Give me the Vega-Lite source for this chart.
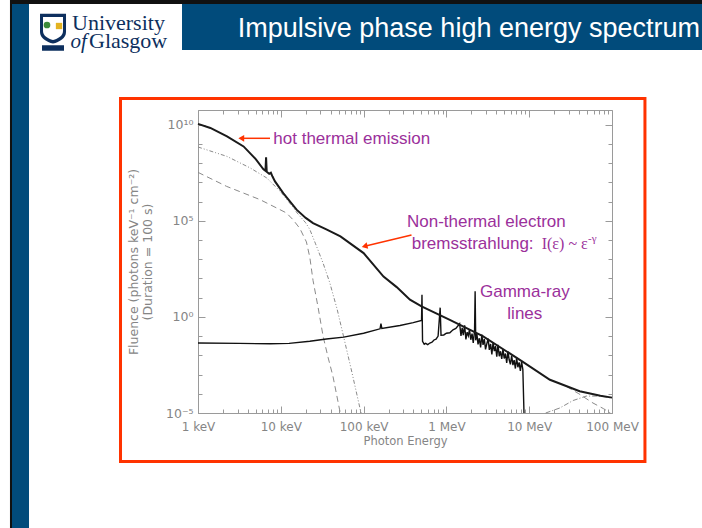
{
  "$schema": "https://vega.github.io/schema/vega-lite/v6.json",
  "width": 414,
  "height": 303,
  "autosize": {"type": "none"},
  "padding": {"left": 198, "top": 110, "right": 90, "bottom": 115},
  "background": "white",
  "config": {"view": {"stroke": "#9a9a9a", "strokeWidth": 1}},
  "datasets": {
    "chrome": [
      {"part": "top rule", "energy": 0.00536, "energy2": 1300000, "fluence": 1.905e16, "fluence2": 5e16},
      {"part": "header", "energy": 0.641, "energy2": 1300000, "fluence": 7.71e13, "fluence2": 1.905e16},
      {"part": "left rule", "energy": 0.00536, "energy2": 0.00567, "fluence": 1e-12, "fluence2": 1.905e16},
      {"part": "left bar", "energy": 0.00567, "energy2": 0.0091, "fluence": 1e-12, "fluence2": 1.905e16}
    ],
    "frame": [
      {"part": "figure box", "energy": 0.1159, "energy2": 250000, "fluence": 3.0e-8, "fluence2": 2.31e11}
    ],
    "emblem": [
      {"part": "shield", "energy": 0.01774, "fluence": 1.075e15},
      {"part": "inner", "energy": 0.01774, "fluence": 1.075e15},
      {"part": "tree", "energy": 0.0150, "fluence": 1.54e15},
      {"part": "bell", "energy": 0.02096, "fluence": 1.366e15},
      {"part": "scroll", "energy": 0.01774, "fluence": 9.79e13}
    ],
    "components": [
      {"series": "Hot thermal", "energy": 1, "fluence": 6.92e8},
      {"series": "Hot thermal", "energy": 2.24, "fluence": 2.24e8},
      {"series": "Hot thermal", "energy": 4.27, "fluence": 5.62e7},
      {"series": "Hot thermal", "energy": 6.76, "fluence": 1.70e7},
      {"series": "Hot thermal", "energy": 10, "fluence": 3.16e6},
      {"series": "Hot thermal", "energy": 14.1, "fluence": 5.01e5},
      {"series": "Hot thermal", "energy": 15.8, "fluence": 2.51e5},
      {"series": "Hot thermal", "energy": 19.95, "fluence": 7.94e4},
      {"series": "Hot thermal", "energy": 22.4, "fluence": 3.55e4},
      {"series": "Hot thermal", "energy": 26.3, "fluence": 6310},
      {"series": "Hot thermal", "energy": 32.4, "fluence": 631},
      {"series": "Hot thermal", "energy": 38.9, "fluence": 63.1},
      {"series": "Hot thermal", "energy": 47.9, "fluence": 2.51},
      {"series": "Hot thermal", "energy": 57.5, "fluence": 0.0891},
      {"series": "Hot thermal", "energy": 72.4, "fluence": 0.00126},
      {"series": "Hot thermal", "energy": 91.2, "fluence": 0.0000148},
      {"series": "Hot thermal", "energy": 93.3, "fluence": 0.00001},
      {"series": "Cool thermal", "energy": 1, "fluence": 3.31e7},
      {"series": "Cool thermal", "energy": 2.22, "fluence": 6.17e6},
      {"series": "Cool thermal", "energy": 5.62, "fluence": 1.26e6},
      {"series": "Cool thermal", "energy": 11.7, "fluence": 2.57e5},
      {"series": "Cool thermal", "energy": 14.1, "fluence": 1.12e5},
      {"series": "Cool thermal", "energy": 17.0, "fluence": 3.98e4},
      {"series": "Cool thermal", "energy": 20.4, "fluence": 7940},
      {"series": "Cool thermal", "energy": 22.4, "fluence": 1260},
      {"series": "Cool thermal", "energy": 24.5, "fluence": 79.4},
      {"series": "Cool thermal", "energy": 28.2, "fluence": 3.16},
      {"series": "Cool thermal", "energy": 32.4, "fluence": 0.1},
      {"series": "Cool thermal", "energy": 37.2, "fluence": 0.00794},
      {"series": "Cool thermal", "energy": 42.7, "fluence": 0.000794},
      {"series": "Cool thermal", "energy": 51.3, "fluence": 0.0000148},
      {"series": "Cool thermal", "energy": 52.5, "fluence": 0.00001},
      {"series": "Pion decay", "energy": 15800, "fluence": 0.00001},
      {"series": "Pion decay", "energy": 23400, "fluence": 0.0000182},
      {"series": "Pion decay", "energy": 33900, "fluence": 0.0000447},
      {"series": "Pion decay", "energy": 49000, "fluence": 0.0000759},
      {"series": "Pion decay", "energy": 72400, "fluence": 0.0000759},
      {"series": "Pion decay", "energy": 100000, "fluence": 0.0000603},
      {"series": "Electron bremsstrahlung", "energy": 28200, "fluence": 0.00024},
      {"series": "Electron bremsstrahlung", "energy": 39800, "fluence": 0.0001},
      {"series": "Electron bremsstrahlung", "energy": 58900, "fluence": 0.0000331},
      {"series": "Electron bremsstrahlung", "energy": 79400, "fluence": 0.0000166},
      {"series": "Electron bremsstrahlung", "energy": 95500, "fluence": 0.00001}
    ],
    "gamma": [
      {"energy": 1, "fluence": 0.0437},
      {"energy": 3.16, "fluence": 0.0417},
      {"energy": 7.41, "fluence": 0.0398},
      {"energy": 12.6, "fluence": 0.0417},
      {"energy": 22.4, "fluence": 0.0537},
      {"energy": 35.5, "fluence": 0.0708},
      {"energy": 57.5, "fluence": 0.0891},
      {"energy": 100, "fluence": 0.141},
      {"energy": 158, "fluence": 0.24},
      {"energy": 162, "fluence": 0.447},
      {"energy": 166, "fluence": 0.251},
      {"energy": 275, "fluence": 0.355},
      {"energy": 398, "fluence": 0.501},
      {"energy": 501, "fluence": 0.661},
      {"energy": 507, "fluence": 14.1},
      {"energy": 515, "fluence": 0.0537},
      {"energy": 540, "fluence": 0.038},
      {"energy": 562, "fluence": 0.0417},
      {"energy": 595, "fluence": 0.036},
      {"energy": 631, "fluence": 0.0437},
      {"energy": 670, "fluence": 0.048},
      {"energy": 708, "fluence": 0.0631},
      {"energy": 750, "fluence": 0.07},
      {"energy": 794, "fluence": 0.1},
      {"energy": 841, "fluence": 3.02},
      {"energy": 861, "fluence": 0.112},
      {"energy": 930, "fluence": 0.115},
      {"energy": 1000, "fluence": 0.141},
      {"energy": 1100, "fluence": 0.15},
      {"energy": 1202, "fluence": 0.214},
      {"energy": 1300, "fluence": 0.25},
      {"energy": 1445, "fluence": 0.442},
      {"energy": 1500, "fluence": 0.1026},
      {"energy": 1550, "fluence": 0.270},
      {"energy": 1600, "fluence": 0.1125},
      {"energy": 1660, "fluence": 0.369},
      {"energy": 1720, "fluence": 0.0682},
      {"energy": 1780, "fluence": 0.160},
      {"energy": 1840, "fluence": 0.1052},
      {"energy": 1900, "fluence": 0.220},
      {"energy": 1970, "fluence": 0.0646},
      {"energy": 2040, "fluence": 0.1337},
      {"energy": 2110, "fluence": 0.0443},
      {"energy": 2188, "fluence": 0.183},
      {"energy": 2223, "fluence": 21.4},
      {"energy": 2260, "fluence": 0.0607},
      {"energy": 2330, "fluence": 0.143},
      {"energy": 2410, "fluence": 0.0374},
      {"energy": 2500, "fluence": 0.0774},
      {"energy": 2590, "fluence": 0.0255},
      {"energy": 2680, "fluence": 0.119},
      {"energy": 2770, "fluence": 0.0350},
      {"energy": 2870, "fluence": 0.0708},
      {"energy": 2970, "fluence": 0.0204},
      {"energy": 3080, "fluence": 0.0411},
      {"energy": 3190, "fluence": 0.0746},
      {"energy": 3300, "fluence": 0.0191},
      {"energy": 3420, "fluence": 0.0389},
      {"energy": 3540, "fluence": 0.01117},
      {"energy": 3660, "fluence": 0.0456},
      {"energy": 3790, "fluence": 0.0164},
      {"energy": 3920, "fluence": 0.0300},
      {"energy": 4060, "fluence": 0.00857},
      {"energy": 4200, "fluence": 0.0350},
      {"energy": 4350, "fluence": 0.00895},
      {"energy": 4500, "fluence": 0.01626},
      {"energy": 4660, "fluence": 0.00659},
      {"energy": 4820, "fluence": 0.0213},
      {"energy": 4990, "fluence": 0.00686},
      {"energy": 5170, "fluence": 0.01245},
      {"energy": 5350, "fluence": 0.00401},
      {"energy": 5540, "fluence": 0.01618},
      {"energy": 5730, "fluence": 0.00589},
      {"energy": 5930, "fluence": 0.00338},
      {"energy": 6140, "fluence": 0.00970},
      {"energy": 6360, "fluence": 0.00313},
      {"energy": 6580, "fluence": 0.00568},
      {"energy": 6810, "fluence": 0.00206},
      {"energy": 7050, "fluence": 0.00743},
      {"energy": 7300, "fluence": 0.00240},
      {"energy": 7560, "fluence": 0.00433},
      {"energy": 7820, "fluence": 0.00157},
      {"energy": 8100, "fluence": 0.00453},
      {"energy": 8380, "fluence": 0.00184},
      {"energy": 8650, "fluence": 0.00001}
    ],
    "total": [
      {"energy": 1, "fluence": 1.1e10},
      {"energy": 1.41, "fluence": 6.76e9},
      {"energy": 2.24, "fluence": 2.45e9},
      {"energy": 3.55, "fluence": 7.41e8},
      {"energy": 5.01, "fluence": 1.58e8},
      {"energy": 6.17, "fluence": 4.79e7},
      {"energy": 6.53, "fluence": 3.98e7},
      {"energy": 6.64, "fluence": 2.0e8},
      {"energy": 6.76, "fluence": 3.55e7},
      {"energy": 7.24, "fluence": 2.82e7},
      {"energy": 7.59, "fluence": 3.16e7},
      {"energy": 7.94, "fluence": 2.0e7},
      {"energy": 8.51, "fluence": 1.12e7},
      {"energy": 10.7, "fluence": 2.75e6},
      {"energy": 15.5, "fluence": 3.8e5},
      {"energy": 20, "fluence": 1.41e5},
      {"energy": 24.5, "fluence": 7.59e4},
      {"energy": 35.5, "fluence": 3.55e4},
      {"energy": 52.5, "fluence": 1.55e4},
      {"energy": 100, "fluence": 2090},
      {"energy": 174, "fluence": 126},
      {"energy": 251, "fluence": 35.5},
      {"energy": 363, "fluence": 7.94},
      {"energy": 501, "fluence": 3.55},
      {"energy": 1100, "fluence": 0.708},
      {"energy": 2750, "fluence": 0.1},
      {"energy": 8130, "fluence": 0.005},
      {"energy": 17800, "fluence": 0.000537},
      {"energy": 40700, "fluence": 0.000135},
      {"energy": 72400, "fluence": 0.0000794},
      {"energy": 100000, "fluence": 0.0000631}
    ],
    "arrows": [
      {"arrow": "thermal", "energy": 7.41, "energy2": 3.33, "fluence": 1.96e9, "fluence2": 1.96e9},
      {"arrow": "nonthermal", "energy": 379, "energy2": 102.8, "fluence": 18260, "fluence2": 4770}
    ],
    "arrowheads": [
      {"arrow": "thermal", "energy": 3.33, "fluence": 1.96e9},
      {"arrow": "nonthermal", "energy": 102.8, "fluence": 4770}
    ],
    "slide_title": [
      {"text": "Impulsive phase high energy spectrum", "energy": 1156000, "fluence": 3.88e14}
    ],
    "logo_text": [
      {"text": "University", "energy": 0.0301, "fluence": 8.5e14},
      {"text": "Glasgow", "energy": 0.0483, "fluence": 9.6e13}
    ],
    "logo_of": [
      {"text": "of", "energy": 0.0288, "fluence": 9.6e13}
    ],
    "notes": [
      {"text": "hot thermal emission", "energy": 8.12, "fluence": 1.05e9},
      {"text": "Non-thermal electron", "energy": 334, "fluence": 45900},
      {"text": "bremsstrahlung:", "energy": 381, "fluence": 3290}
    ],
    "notes_center": [
      {"text": "Gamma-ray", "energy": 8850, "fluence": 10.5},
      {"text": "lines", "energy": 8850, "fluence": 0.75}
    ],
    "formula": [
      {"text": "I(ε) ~ ε", "energy": 14160, "fluence": 3290}
    ],
    "formula_sup": [
      {"text": "-γ", "energy": 51300, "fluence": 8180}
    ]
  },
  "layer": [
    {
      "data": {"name": "chrome"},
      "mark": {"type": "rect", "clip": false},
      "encoding": {
        "x": {"field": "energy", "type": "quantitative", "scale": {"type": "log", "domain": [1, 100000], "nice": false}, "axis": null},
        "x2": {"field": "energy2"},
        "y": {"field": "fluence", "type": "quantitative", "scale": {"type": "log", "domain": [0.00001, 5.82e10], "nice": false}, "axis": null},
        "y2": {"field": "fluence2"},
        "color": {"field": "part", "type": "nominal", "scale": {"domain": ["top rule", "header", "left rule", "left bar"], "range": ["#111111", "#014b7b", "#111111", "#014b7b"]}, "legend": null}
      }
    },
    {
      "data": {"name": "frame"},
      "mark": {"type": "rect", "filled": false, "stroke": "#ff3300", "strokeWidth": 3, "clip": false},
      "encoding": {
        "x": {"field": "energy", "type": "quantitative", "scale": {"type": "log", "domain": [1, 100000], "nice": false}, "axis": null},
        "x2": {"field": "energy2"},
        "y": {"field": "fluence", "type": "quantitative", "scale": {"type": "log", "domain": [0.00001, 5.82e10], "nice": false}, "axis": null},
        "y2": {"field": "fluence2"}
      }
    },
    {
      "data": {"name": "emblem"},
      "transform": [{"filter": "datum.part == 'shield'"}],
      "mark": {"type": "point", "filled": true, "opacity": 1, "color": "#0d2f5e", "size": 676, "shape": "M-1,-1.1 L1,-1.1 L1,0.3 C1,0.8 0.5,1.05 0,1.2 C-0.5,1.05 -1,0.8 -1,0.3 Z", "clip": false},
      "encoding": {
        "x": {"field": "energy", "type": "quantitative", "scale": {"type": "log", "domain": [1, 100000], "nice": false}, "axis": null},
        "y": {"field": "fluence", "type": "quantitative", "scale": {"type": "log", "domain": [0.00001, 5.82e10], "nice": false}, "axis": null}
      }
    },
    {
      "data": {"name": "emblem"},
      "transform": [{"filter": "datum.part == 'inner'"}],
      "mark": {"type": "point", "filled": true, "opacity": 1, "color": "#ffffff", "size": 400, "shape": "M-1,-1.1 L1,-1.1 L1,0.3 C1,0.8 0.5,1.05 0,1.2 C-0.5,1.05 -1,0.8 -1,0.3 Z", "clip": false},
      "encoding": {
        "x": {"field": "energy", "type": "quantitative", "scale": {"type": "log", "domain": [1, 100000], "nice": false}, "axis": null},
        "y": {"field": "fluence", "type": "quantitative", "scale": {"type": "log", "domain": [0.00001, 5.82e10], "nice": false}, "axis": null}
      }
    },
    {
      "data": {"name": "emblem"},
      "transform": [{"filter": "datum.part == 'tree'"}],
      "mark": {"type": "point", "filled": true, "opacity": 1, "color": "#3c8a3a", "size": 45, "shape": "circle", "clip": false},
      "encoding": {
        "x": {"field": "energy", "type": "quantitative", "scale": {"type": "log", "domain": [1, 100000], "nice": false}, "axis": null},
        "y": {"field": "fluence", "type": "quantitative", "scale": {"type": "log", "domain": [0.00001, 5.82e10], "nice": false}, "axis": null}
      }
    },
    {
      "data": {"name": "emblem"},
      "transform": [{"filter": "datum.part == 'bell'"}],
      "mark": {"type": "point", "filled": true, "opacity": 1, "color": "#e3b321", "size": 40, "shape": "square", "clip": false},
      "encoding": {
        "x": {"field": "energy", "type": "quantitative", "scale": {"type": "log", "domain": [1, 100000], "nice": false}, "axis": null},
        "y": {"field": "fluence", "type": "quantitative", "scale": {"type": "log", "domain": [0.00001, 5.82e10], "nice": false}, "axis": null}
      }
    },
    {
      "data": {"name": "emblem"},
      "transform": [{"filter": "datum.part == 'scroll'"}],
      "mark": {"type": "point", "filled": true, "opacity": 1, "color": "#0d2f5e", "size": 484, "shape": "M-1,-0.25 L1,-0.25 L1,0.25 L-1,0.25 Z", "clip": false},
      "encoding": {
        "x": {"field": "energy", "type": "quantitative", "scale": {"type": "log", "domain": [1, 100000], "nice": false}, "axis": null},
        "y": {"field": "fluence", "type": "quantitative", "scale": {"type": "log", "domain": [0.00001, 5.82e10], "nice": false}, "axis": null}
      }
    },
    {
      "data": {"name": "components"},
      "mark": {"type": "line", "color": "#8a8a8a", "strokeWidth": 1},
      "encoding": {
        "x": {"field": "energy", "type": "quantitative", "scale": {"type": "log", "domain": [1, 100000], "nice": false}, "axis": null},
        "y": {"field": "fluence", "type": "quantitative", "scale": {"type": "log", "domain": [0.00001, 5.82e10], "nice": false}, "axis": null},
        "detail": {"field": "series", "type": "nominal"},
        "strokeDash": {"field": "series", "type": "nominal", "scale": {"domain": ["Hot thermal", "Cool thermal", "Pion decay", "Electron bremsstrahlung"], "range": [[4, 2, 1, 2, 1, 2], [6, 4], [5, 2, 1, 2], [6, 4]]}, "legend": null}
      }
    },
    {
      "data": {"name": "gamma"},
      "mark": {"type": "line", "color": "#111111", "strokeWidth": 1.4},
      "encoding": {
        "x": {"field": "energy", "type": "quantitative", "scale": {"type": "log", "domain": [1, 100000], "nice": false},
          "axis": {"orient": "top", "labels": false, "title": null, "domain": false, "grid": false, "tickColor": "#9a9a9a",
            "values": [1, 2, 3, 4, 5, 6, 7, 8, 9, 10, 20, 30, 40, 50, 60, 70, 80, 90, 100, 200, 300, 400, 500, 600, 700, 800, 900, 1000, 2000, 3000, 4000, 5000, 6000, 7000, 8000, 9000, 10000, 20000, 30000, 40000, 50000, 60000, 70000, 80000, 90000, 100000],
            "tickSize": {"condition": {"test": "indexof([1,10,100,1000,10000,100000], datum.value) >= 0", "value": -7}, "value": -4}}},
        "y": {"field": "fluence", "type": "quantitative", "scale": {"type": "log", "domain": [0.00001, 5.82e10], "nice": false},
          "axis": {"orient": "right", "labels": false, "title": null, "domain": false, "grid": false, "tickColor": "#9a9a9a",
            "values": [0.00001, 0.0001, 0.001, 0.01, 0.1, 1, 10, 100, 1000, 10000, 100000, 1000000, 10000000, 100000000, 1000000000, 10000000000],
            "tickSize": {"condition": {"test": "indexof([0.00001,1,100000,10000000000], datum.value) >= 0", "value": -7}, "value": -4}}}
      }
    },
    {
      "data": {"name": "total"},
      "mark": {"type": "line", "color": "#1a1a1a", "strokeWidth": 2},
      "encoding": {
        "x": {"field": "energy", "type": "quantitative", "scale": {"type": "log", "domain": [1, 100000], "nice": false},
          "axis": {"orient": "bottom", "title": "Photon Energy", "grid": false, "domainColor": "#9a9a9a", "tickColor": "#9a9a9a",
            "values": [1, 2, 3, 4, 5, 6, 7, 8, 9, 10, 20, 30, 40, 50, 60, 70, 80, 90, 100, 200, 300, 400, 500, 600, 700, 800, 900, 1000, 2000, 3000, 4000, 5000, 6000, 7000, 8000, 9000, 10000, 20000, 30000, 40000, 50000, 60000, 70000, 80000, 90000, 100000],
            "labelExpr": "datum.value == 1 ? '1 keV' : datum.value == 10 ? '10 keV' : datum.value == 100 ? '100 keV' : datum.value == 1000 ? '1 MeV' : datum.value == 10000 ? '10 MeV' : datum.value == 100000 ? '100 MeV' : ''",
            "tickSize": {"condition": {"test": "indexof([1,10,100,1000,10000,100000], datum.value) >= 0", "value": -7}, "value": -4},
            "labelFont": "DejaVu Sans", "labelFontSize": 12, "labelColor": "#858585", "labelPadding": 15, "labelFlush": false, "labelOverlap": false, "labelBound": false,
            "titleFont": "DejaVu Sans", "titleFontSize": 11.5, "titleFontWeight": "normal", "titleColor": "#858585", "titlePadding": 0}},
        "y": {"field": "fluence", "type": "quantitative", "scale": {"type": "log", "domain": [0.00001, 5.82e10], "nice": false},
          "axis": {"orient": "left", "title": ["Fluence (photons keV⁻¹ cm⁻²)", "(Duration = 100 s)"], "grid": false, "domainColor": "#9a9a9a", "tickColor": "#9a9a9a",
            "values": [0.00001, 0.0001, 0.001, 0.01, 0.1, 1, 10, 100, 1000, 10000, 100000, 1000000, 10000000, 100000000, 1000000000, 10000000000],
            "labelExpr": "datum.value == 10000000000 ? '10¹⁰' : datum.value == 100000 ? '10⁵' : datum.value == 1 ? '10⁰' : datum.value == 0.00001 ? '10⁻⁵' : ''",
            "tickSize": {"condition": {"test": "indexof([0.00001,1,100000,10000000000], datum.value) >= 0", "value": -7}, "value": -4},
            "labelFont": "DejaVu Sans", "labelFontSize": 12.5, "labelColor": "#858585", "labelPadding": 12, "labelFlush": false, "labelOverlap": false, "labelBound": false,
            "titleFont": "DejaVu Sans", "titleFontSize": 12.5, "titleFontWeight": "normal", "titleColor": "#858585", "titlePadding": 11, "titleLineHeight": 14}}
      }
    },
    {
      "data": {"name": "arrows"},
      "mark": {"type": "rule", "color": "#ff3300", "strokeWidth": 1.5, "clip": false},
      "encoding": {
        "x": {"field": "energy", "type": "quantitative", "scale": {"type": "log", "domain": [1, 100000], "nice": false}, "axis": null},
        "x2": {"field": "energy2"},
        "y": {"field": "fluence", "type": "quantitative", "scale": {"type": "log", "domain": [0.00001, 5.82e10], "nice": false}, "axis": null},
        "y2": {"field": "fluence2"}
      }
    },
    {
      "data": {"name": "arrowheads"},
      "transform": [{"filter": "datum.arrow == 'thermal'"}],
      "mark": {"type": "point", "shape": "triangle-left", "filled": true, "opacity": 1, "color": "#ff3300", "size": 45, "clip": false},
      "encoding": {
        "x": {"field": "energy", "type": "quantitative", "scale": {"type": "log", "domain": [1, 100000], "nice": false}, "axis": null},
        "y": {"field": "fluence", "type": "quantitative", "scale": {"type": "log", "domain": [0.00001, 5.82e10], "nice": false}, "axis": null}
      }
    },
    {
      "data": {"name": "arrowheads"},
      "transform": [{"filter": "datum.arrow == 'nonthermal'"}],
      "mark": {"type": "point", "shape": "triangle-left", "filled": true, "opacity": 1, "color": "#ff3300", "size": 45, "angle": 346.5, "clip": false},
      "encoding": {
        "x": {"field": "energy", "type": "quantitative", "scale": {"type": "log", "domain": [1, 100000], "nice": false}, "axis": null},
        "y": {"field": "fluence", "type": "quantitative", "scale": {"type": "log", "domain": [0.00001, 5.82e10], "nice": false}, "axis": null}
      }
    },
    {
      "data": {"name": "slide_title"},
      "mark": {"type": "text", "font": "Liberation Sans", "fontSize": 27, "color": "#ffffff", "align": "right", "baseline": "alphabetic", "clip": false},
      "encoding": {
        "x": {"field": "energy", "type": "quantitative", "scale": {"type": "log", "domain": [1, 100000], "nice": false}, "axis": null},
        "y": {"field": "fluence", "type": "quantitative", "scale": {"type": "log", "domain": [0.00001, 5.82e10], "nice": false}, "axis": null},
        "text": {"field": "text"}
      }
    },
    {
      "data": {"name": "logo_text"},
      "mark": {"type": "text", "font": "Liberation Serif", "fontSize": 22, "color": "#0d2f5e", "align": "left", "baseline": "alphabetic", "clip": false},
      "encoding": {
        "x": {"field": "energy", "type": "quantitative", "scale": {"type": "log", "domain": [1, 100000], "nice": false}, "axis": null},
        "y": {"field": "fluence", "type": "quantitative", "scale": {"type": "log", "domain": [0.00001, 5.82e10], "nice": false}, "axis": null},
        "text": {"field": "text"}
      }
    },
    {
      "data": {"name": "logo_of"},
      "mark": {"type": "text", "font": "Liberation Serif", "fontStyle": "italic", "fontSize": 21, "color": "#0d2f5e", "align": "left", "baseline": "alphabetic", "clip": false},
      "encoding": {
        "x": {"field": "energy", "type": "quantitative", "scale": {"type": "log", "domain": [1, 100000], "nice": false}, "axis": null},
        "y": {"field": "fluence", "type": "quantitative", "scale": {"type": "log", "domain": [0.00001, 5.82e10], "nice": false}, "axis": null},
        "text": {"field": "text"}
      }
    },
    {
      "data": {"name": "notes"},
      "mark": {"type": "text", "font": "Liberation Sans", "fontSize": 17, "color": "#9b309b", "align": "left", "baseline": "alphabetic", "clip": false},
      "encoding": {
        "x": {"field": "energy", "type": "quantitative", "scale": {"type": "log", "domain": [1, 100000], "nice": false}, "axis": null},
        "y": {"field": "fluence", "type": "quantitative", "scale": {"type": "log", "domain": [0.00001, 5.82e10], "nice": false}, "axis": null},
        "text": {"field": "text"}
      }
    },
    {
      "data": {"name": "notes_center"},
      "mark": {"type": "text", "font": "Liberation Sans", "fontSize": 17, "color": "#9b309b", "align": "center", "baseline": "alphabetic", "clip": false},
      "encoding": {
        "x": {"field": "energy", "type": "quantitative", "scale": {"type": "log", "domain": [1, 100000], "nice": false}, "axis": null},
        "y": {"field": "fluence", "type": "quantitative", "scale": {"type": "log", "domain": [0.00001, 5.82e10], "nice": false}, "axis": null},
        "text": {"field": "text"}
      }
    },
    {
      "data": {"name": "formula"},
      "mark": {"type": "text", "font": "Liberation Serif", "fontSize": 16, "color": "#9b309b", "align": "left", "baseline": "alphabetic", "clip": false},
      "encoding": {
        "x": {"field": "energy", "type": "quantitative", "scale": {"type": "log", "domain": [1, 100000], "nice": false}, "axis": null},
        "y": {"field": "fluence", "type": "quantitative", "scale": {"type": "log", "domain": [0.00001, 5.82e10], "nice": false}, "axis": null},
        "text": {"field": "text"}
      }
    },
    {
      "data": {"name": "formula_sup"},
      "mark": {"type": "text", "font": "Liberation Serif", "fontSize": 11, "color": "#9b309b", "align": "left", "baseline": "alphabetic", "clip": false},
      "encoding": {
        "x": {"field": "energy", "type": "quantitative", "scale": {"type": "log", "domain": [1, 100000], "nice": false}, "axis": null},
        "y": {"field": "fluence", "type": "quantitative", "scale": {"type": "log", "domain": [0.00001, 5.82e10], "nice": false}, "axis": null},
        "text": {"field": "text"}
      }
    }
  ],
  "resolve": {"axis": {"x": "independent", "y": "independent"}}
}
